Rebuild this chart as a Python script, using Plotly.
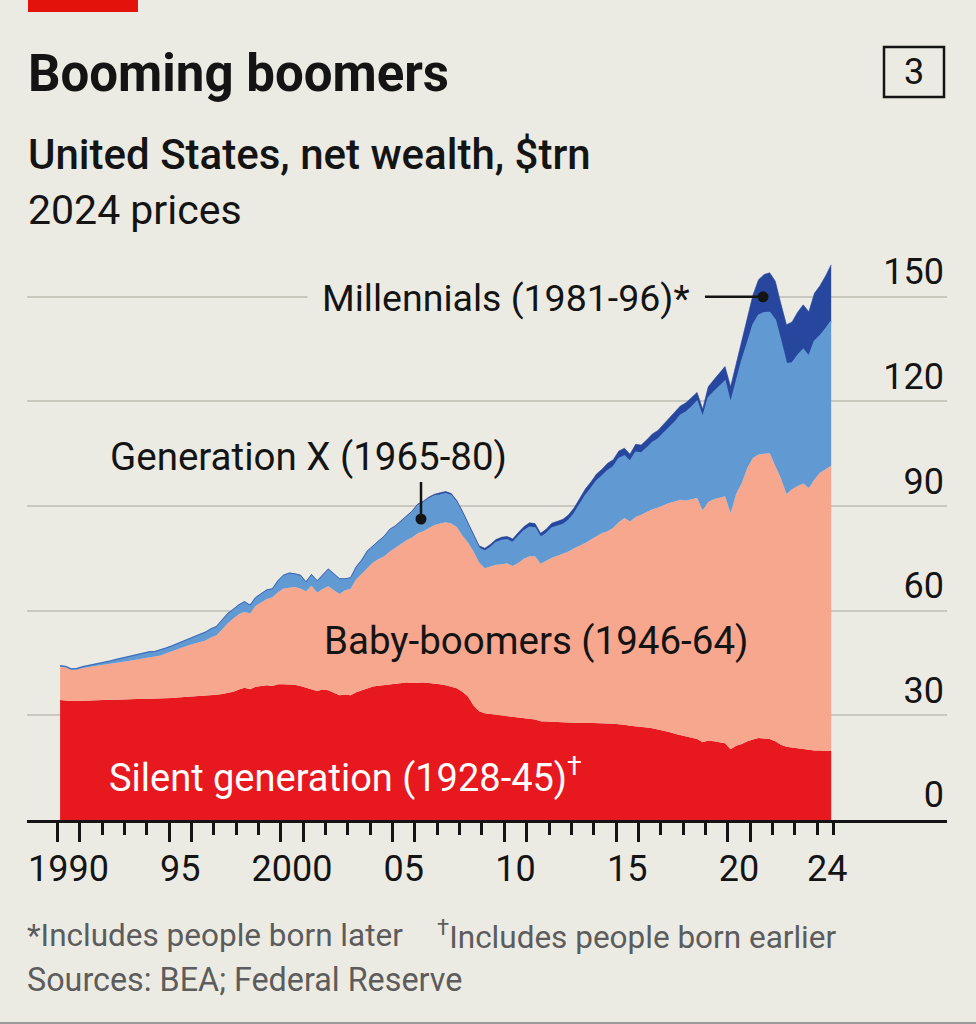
import plotly.graph_objects as go

# ---------------- data (US net wealth by generation, $trn, 2024 prices) ----------------
years = list(range(1990, 2025))
quarters = [f"{y}Q{q}" for y in years for q in range(1, 5)][:139]   # 1990Q1 .. 2024Q3

silent = [
    34.4, 34.2, 34.1, 34.1,  34.2, 34.3, 34.3, 34.4,  34.4, 34.5, 34.5, 34.6,  34.6, 34.7, 34.7, 34.8,
    34.8, 34.8, 34.9, 35.0,  35.0, 35.1, 35.2, 35.3,  35.3, 35.4, 35.5, 35.7,  35.9, 36.1, 36.4, 36.8,
    37.4, 37.9, 37.5, 38.2,  38.4, 38.6, 38.4, 38.9,  38.9, 38.8, 38.8, 38.4,  38.0, 37.6, 37.0, 37.4,
    37.2, 36.5, 35.8, 36.0,  35.8, 36.6, 37.1, 37.8,  38.3, 38.5, 38.7, 39.0,  39.1, 39.3, 39.4, 39.3,
    39.4, 39.4, 39.3, 39.2,  38.9, 38.6, 38.3, 37.8,  36.8, 35.4, 32.8, 31.2,  30.6, 30.4, 30.2, 30.0,
    29.9, 29.5, 29.4, 29.2,  29.0, 28.8, 28.3, 28.3,  28.2, 28.1, 28.0, 27.9,  27.9, 27.8, 27.9, 27.9,
    27.8, 27.8, 27.7, 27.6,  27.5, 27.3, 27.0, 26.9,  26.7, 26.5, 26.3, 26.0,  25.6, 25.2, 24.7, 24.3,
    23.9, 23.6, 23.2, 22.3,  22.8, 22.6, 22.3, 22.0,  20.3, 21.3, 21.8, 22.6,  23.1, 23.5, 23.4, 23.2,
    22.6, 21.6, 21.0, 20.8,  20.4, 20.2, 20.0, 19.9,  19.9, 19.9, 19.8,
]

boomers = [
    9.6, 9.6, 9.0, 9.1,  9.4, 9.6, 9.9, 10.0,  10.2, 10.3, 10.5, 10.6,  10.9, 11.1, 11.4, 11.6,
    11.9, 12.0, 12.3, 12.8,  13.3, 13.7, 14.3, 14.8,  15.3, 15.7, 16.0, 16.6,  17.1, 18.5, 20.0, 21.0,
    21.6, 21.8, 21.7, 23.2,  24.0, 24.8, 25.5, 26.4,  27.5, 27.7, 28.0, 28.0,  27.6, 29.6, 28.2, 28.8,
    29.8, 29.4, 29.0, 29.9,  30.5, 32.4, 33.5, 34.6,  35.5, 36.3, 36.9, 38.0,  39.0, 39.7, 40.8, 41.7,
    42.8, 43.4, 44.5, 45.4,  46.1, 46.8, 46.7, 46.2,  44.8, 44.2, 44.2, 42.6,  41.6, 42.4, 43.0, 43.3,
    43.7, 43.3, 44.3, 45.7,  46.6, 46.8, 45.2, 46.0,  47.0, 47.7, 48.4, 49.1,  50.0, 50.8, 51.5, 52.5,
    53.5, 54.5, 55.1, 56.2,  57.9, 59.3, 58.6, 60.0,  60.8, 61.9, 62.8, 63.6,  64.7, 65.7, 66.6, 67.5,
    67.7, 68.4, 69.1, 66.5,  68.4, 69.4, 70.0, 70.8,  67.7, 72.2, 74.8, 78.4,  80.7, 81.3, 81.6, 82.0,
    78.9, 76.4, 72.5, 74.0,  75.4, 76.3, 75.2, 77.7,  79.7, 80.6, 81.8,
]

gen_x = [
    0.2, 0.2, 0.2, 0.2,  0.3, 0.3, 0.4, 0.6,  0.7, 0.8, 1.0, 1.2,  1.3, 1.4, 1.4, 1.5,
    1.5, 1.5, 1.5, 1.5,  1.6, 1.8, 1.8, 1.9,  2.0, 2.1, 2.3, 2.5,  2.4, 2.5, 2.7, 2.5,
    2.6, 2.8, 2.3, 2.3,  2.3, 2.5, 2.3, 3.2,  3.7, 4.2, 3.7, 3.7,  2.5, 3.0, 3.2, 3.8,
    4.8, 4.5, 4.2, 3.1,  3.0, 3.4, 3.8, 4.6,  4.5, 5.1, 5.5, 6.1,  5.9, 6.4, 6.6, 7.2,
    7.9, 8.1, 8.3, 8.3,  8.2, 8.2, 8.0, 7.0,  6.3, 4.9, 4.3, 4.1,  4.9, 5.3, 6.3, 6.8,
    6.7, 6.7, 7.6, 8.0,  8.3, 8.1, 7.5, 7.8,  8.5, 8.3, 8.3, 8.9,  9.9, 11.8, 13.6, 14.6,
    15.9, 16.3, 17.4, 17.4,  18.2, 17.8, 17.2, 18.5,  17.7, 18.2, 19.1, 19.6,  20.5, 21.5, 22.7, 24.2,
    25.3, 26.3, 27.7, 26.5,  29.8, 30.7, 32.1, 33.0,  31.4, 32.1, 35.0, 35.6,  38.1, 39.9, 40.4, 40.3,
    41.8, 39.2, 37.3, 36.2,  37.4, 38.4, 37.7, 39.6,  39.2, 40.3, 41.4,
]

millennials = [
    0.0, 0.0, 0.0, 0.0,  0.0, 0.0, 0.0, 0.0,  0.0, 0.0, 0.0, 0.0,  0.0, 0.0, 0.0, 0.0,
    0.0, 0.0, 0.0, 0.0,  0.0, 0.0, 0.0, 0.0,  0.0, 0.0, 0.0, 0.0,  0.1, 0.1, 0.1, 0.1,
    0.1, 0.1, 0.1, 0.1,  0.1, 0.1, 0.1, 0.1,  0.1, 0.1, 0.1, 0.1,  0.2, 0.2, 0.2, 0.2,
    0.2, 0.2, 0.2, 0.2,  0.2, 0.2, 0.2, 0.2,  0.3, 0.3, 0.3, 0.3,  0.4, 0.4, 0.4, 0.4,
    0.5, 0.5, 0.5, 0.5,  0.6, 0.6, 0.6, 0.6,  0.7, 0.7, 0.7, 0.7,  0.8, 0.9, 0.9, 1.0,
    1.0, 1.1, 1.1, 1.2,  1.3, 1.3, 1.2, 1.3,  1.4, 1.5, 1.5, 1.6,  1.7, 1.8, 1.9, 1.9,
    2.0, 2.0, 2.1, 2.1,  2.2, 2.2, 2.1, 2.3,  2.3, 2.4, 2.5, 2.5,  2.6, 2.6, 2.7, 2.7,
    2.7, 2.7, 2.6, 2.5,  3.2, 3.5, 3.8, 4.2,  4.8, 5.4, 6.2, 7.4,  8.6, 10.2, 11.0, 11.4,
    11.2, 10.8, 11.2, 11.8,  12.4, 12.8, 12.8, 13.8,  14.4, 15.2, 16.2,
]

y_ticks = [0, 30, 60, 90, 120, 150]
x_label_years = [1990, 1995, 2000, 2005, 2010, 2015, 2020, 2024]
x_label_text = ["1990", "95", "2000", "05", "10", "15", "20", "24"]

# ---------------- styling ----------------
BG = "#ecebe3"
INK = "#141414"
GREY = "#5c5c5c"
C_SILENT = "#e8181f"
C_BOOM = "#f6a78e"
C_GENX = "#6199d3"
C_MILL = "#27479e"
FONT = "Roboto, 'Noto Sans', sans-serif"

W, H = 976, 1024
L, R, T, B = 27, 29, 230, 204
PW, PH = W - L - R, H - T - B
PX_PER_YEAR = 22.35
PX_PER_UNIT = 3.4877
X0 = 1990 - (57.3 - L) / PX_PER_YEAR
X1 = X0 + PW / PX_PER_YEAR
YMAX = PH / PX_PER_UNIT


def px(xp):   # pixel x -> paper
    return (xp - L) / PW


def py(yp):   # pixel y -> paper
    return (H - B - yp) / PH


def yr(xp):   # pixel x -> data year
    return X0 + (xp - L) / PX_PER_YEAR


def val(yp):  # pixel y -> data value
    return (H - B - yp) / PX_PER_UNIT


xq = [int(q[:4]) + (int(q[-1]) - 1) / 4 + 0.125 for q in quarters]

fig = go.Figure()
series = [
    ("Silent generation", silent, C_SILENT, 0),
    ("Baby-boomers", boomers, C_BOOM, 0),
    ("Generation X", gen_x, C_GENX, 1.6),
    ("Millennials", millennials, C_MILL, 0.6),
]
for name, vals, col, lw in series:
    fig.add_trace(go.Scatter(
        x=xq, y=vals, name=name, mode="lines", stackgroup="one",
        line=dict(color=col, width=lw), fillcolor=col,
        showlegend=False,
    ))

# pointer dots
gx_x = yr(421)
mil_x = yr(763)
fig.add_trace(go.Scatter(x=[gx_x, mil_x], y=[val(519), 150], mode="markers",
                         marker=dict(color=INK, size=11), showlegend=False, hoverinfo="skip"))

# invisible trace carrying the tick-label axis
fig.add_trace(go.Scatter(x=[2000], y=[0], xaxis="x2", mode="markers",
                         marker=dict(opacity=0), showlegend=False, hoverinfo="skip"))

long_ticks = [1990, 1991, 1995, 1996, 2000, 2001, 2005, 2006, 2010, 2011, 2015, 2016, 2020, 2021]
short_ticks = [y for y in years if y not in long_ticks] + [2024.75]

fig.update_layout(
    width=W, height=H, margin=dict(l=L, r=R, t=T, b=B),
    paper_bgcolor=BG, plot_bgcolor=BG,
    font=dict(family=FONT, color=INK),
    xaxis=dict(range=[X0, X1], showgrid=False, zeroline=False,
               showline=True, linecolor=INK, linewidth=3,
               ticks="outside", tickvals=long_ticks, ticklen=19, tickwidth=3, tickcolor=INK,
               showticklabels=False,
               minor=dict(tickvals=short_ticks, ticks="outside", ticklen=12, tickwidth=3, tickcolor=INK)),
    xaxis2=dict(range=[X0, X1], overlaying="x", anchor="y", side="bottom",
                showgrid=False, zeroline=False, showline=False, ticks="",
                tickvals=[y + 0.5 if y != 2024 else 2024.45 for y in x_label_years],
                ticktext=x_label_text, tickfont=dict(size=36, color=INK, family=FONT),
                ticklabelstandoff=24),
    yaxis=dict(range=[0, YMAX], side="right", tickvals=y_ticks,
               showgrid=True, gridcolor="#c9c8bf", gridwidth=1.6, zeroline=False,
               showline=False, ticks="", ticklabelposition="inside top",
               tickfont=dict(size=36, color=INK, family=FONT)),
    hovermode=False,
)

shapes = [
    # red tag
    dict(type="rect", xref="paper", yref="paper", x0=px(28), x1=px(138), y0=py(12), y1=py(-2),
         fillcolor="#e3120b", line=dict(width=0)),
    # chart number box
    dict(type="rect", xref="paper", yref="paper", x0=px(884), x1=px(944), y0=py(97), y1=py(47),
         line=dict(color=INK, width=2.5), fillcolor="rgba(0,0,0,0)"),
    # pointers
    dict(type="line", xref="x", yref="y", x0=yr(705), x1=mil_x, y0=150, y1=150,
         line=dict(color=INK, width=2.5)),
    dict(type="line", xref="x", yref="y", x0=gx_x, x1=gx_x, y0=val(482), y1=val(519),
         line=dict(color=INK, width=2.5)),
    # bottom rule
    dict(type="line", xref="paper", yref="paper", x0=px(0), x1=px(976), y0=py(1023), y1=py(1023),
         line=dict(color="#9a9a9a", width=2)),
]
fig.update_layout(shapes=shapes)

ann = [
    dict(text="<b>Booming boomers</b>", x=px(26), y=py(73), xanchor="left", yanchor="middle",
         font=dict(size=51, color=INK)),
    dict(text="United States, net wealth, $trn", x=px(26), y=py(155), xanchor="left", yanchor="middle",
         font=dict(size=42, color=INK, weight=500)),
    dict(text="2024 prices", x=px(26), y=py(210), xanchor="left", yanchor="middle",
         font=dict(size=41, color=INK)),
    dict(text="3", x=px(914), y=py(72), xanchor="center", yanchor="middle",
         font=dict(size=36, color=INK)),
    dict(text="Millennials (1981-96)*", x=px(705), y=py(298), xanchor="right", yanchor="middle",
         font=dict(size=37.5, color=INK), bgcolor=BG, borderpad=14),
    dict(text="Generation X (1965-80)", x=px(308), y=py(456), xanchor="center", yanchor="middle",
         font=dict(size=38.5, color=INK)),
    dict(text="Baby-boomers (1946-64)", x=px(535.5), y=py(640), xanchor="center", yanchor="middle",
         font=dict(size=38.5, color=INK)),
    dict(text="Silent generation (1928-45)<sup>†</sup>", x=px(107), y=py(775), xanchor="left",
         yanchor="middle", font=dict(size=38, color="white")),
    dict(text="*Includes people born later", x=px(25), y=py(935), xanchor="left", yanchor="middle",
         font=dict(size=31.5, color=GREY)),
    dict(text="<sup>†</sup>Includes people born earlier", x=px(435), y=py(935), xanchor="left",
         yanchor="middle", font=dict(size=31.5, color=GREY)),
    dict(text="Sources: BEA; Federal Reserve", x=px(25), y=py(980), xanchor="left", yanchor="middle",
         font=dict(size=32.3, color=GREY)),
]
for a in ann:
    a.setdefault("xref", "paper")
    a.setdefault("yref", "paper")
    a.setdefault("showarrow", False)
fig.update_layout(annotations=ann)

fig.write_html("out.html", config={"displayModeBar": False},
               post_script="document.body.style.margin='0';")
